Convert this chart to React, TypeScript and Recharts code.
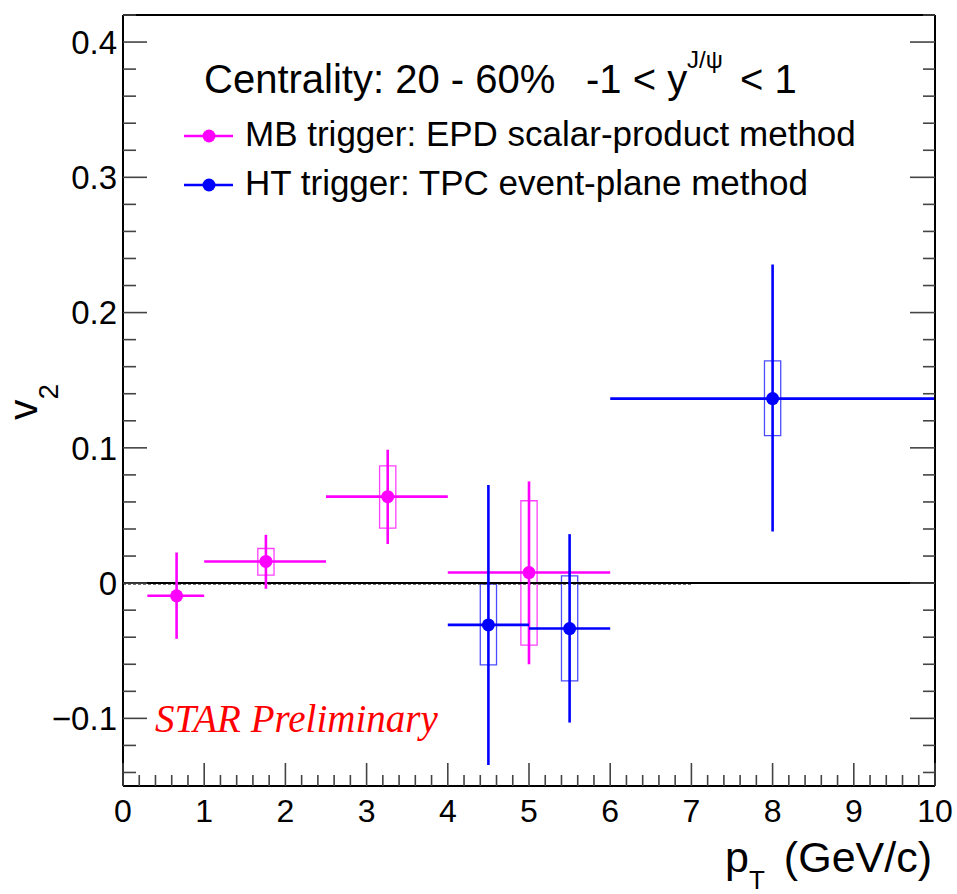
import React from 'react'
import {
  ComposedChart,
  Scatter,
  XAxis,
  YAxis,
  ErrorBar,
  ReferenceArea,
  ReferenceLine,
} from 'recharts'

// MB trigger, EPD scalar-product method
const MB_PT = [0.66, 1.76, 3.26, 5.0]
const MB_BIN_LO = [0.3, 1.0, 2.5, 4.0]
const MB_BIN_HI = [1.0, 2.5, 4.0, 6.0]
const MB_V2 = [-0.0094, 0.016, 0.0639, 0.0078]
const MB_STAT_LO = [-0.0412, -0.0042, 0.0289, -0.06]
const MB_STAT_HI = [0.0226, 0.0357, 0.0986, 0.0752]
const MB_SYS_LO = [null, 0.0059, 0.0407, -0.0459]
const MB_SYS_HI = [null, 0.0256, 0.0866, 0.0609]

// HT trigger, TPC event-plane method
const HT_PT = [4.5, 5.5, 8.0]
const HT_BIN_LO = [4.0, 5.0, 6.0]
const HT_BIN_HI = [5.0, 6.0, 10.0]
const HT_V2 = [-0.0309, -0.0336, 0.1364]
const HT_STAT_LO = [-0.1345, -0.1031, 0.0382]
const HT_STAT_HI = [0.0725, 0.0362, 0.2355]
const HT_SYS_LO = [-0.0605, -0.0723, 0.109]
const HT_SYS_HI = [-0.0007, 0.0054, 0.1643]

// axis ranges and tick positions (major + minor)
const X_DOMAIN = [0, 10]
const Y_DOMAIN = [-0.15, 0.42]
const X_TICKS = Array.from({ length: 51 }, (_, i) => Math.round(i * 2) / 10)
const Y_TICKS = Array.from({ length: 29 }, (_, i) => Math.round(-14 + i * 2) / 100)

const SYS_HALF_WIDTH = 0.1

const MAGENTA = '#FF00FF'
const BLUE = '#0000FF'
const TICK = '#444'
const SANS = '"Liberation Sans", Arial, Helvetica, sans-serif'
const SERIF = '"Liberation Serif", "Times New Roman", serif'

const W = 957
const H = 894

function toPoints(pt: number[], v2: number[], lo: number[], hi: number[], sLo: number[], sHi: number[]) {
  return pt.map((x, i) => ({
    x,
    y: v2[i],
    xErr: [x - lo[i], hi[i] - x],
    yErr: [v2[i] - sLo[i], sHi[i] - v2[i]],
  }))
}

const mbPoints = toPoints(MB_PT, MB_V2, MB_BIN_LO, MB_BIN_HI, MB_STAT_LO, MB_STAT_HI)
const htPoints = toPoints(HT_PT, HT_V2, HT_BIN_LO, HT_BIN_HI, HT_STAT_LO, HT_STAT_HI)

const isMajorX = (v: number) => Math.abs(v - Math.round(v)) < 1e-6
const isMajorY = (v: number) => Math.abs(v * 10 - Math.round(v * 10)) < 1e-6

const yLabel = (v: number) => {
  if (Math.abs(v) < 1e-9) return '0'
  return v < 0 ? '\u2212' + Math.abs(v).toFixed(1) : v.toFixed(1)
}

const BottomTick = ({ x, y, payload }: any) => {
  const major = isMajorX(payload.value)
  return (
    <g>
      <line x1={x} x2={x} y1={y} y2={y - (major ? 23 : 11)} stroke={TICK} strokeWidth={1.6} />
      {major && (
        <text x={x} y={y + 36} textAnchor="middle" fontSize={32} fontFamily={SANS} fill="#000">
          {Math.round(payload.value)}
        </text>
      )}
    </g>
  )
}

const TopTick = ({ x, y, payload }: any) => {
  const major = isMajorX(payload.value)
  return <line x1={x} x2={x} y1={y} y2={y + (major ? 23 : 12)} stroke={TICK} strokeWidth={1.6} />
}

const LeftTick = ({ x, y, payload }: any) => {
  const major = isMajorY(payload.value)
  return (
    <g>
      <line x1={x} x2={x + (major ? 24 : 13)} y1={y} y2={y} stroke={TICK} strokeWidth={1.6} />
      {major && (
        <text x={x - 6} y={y} dy="0.36em" textAnchor="end" fontSize={33} fontFamily={SANS} fill="#000">
          {yLabel(payload.value)}
        </text>
      )}
    </g>
  )
}

const RightTick = ({ x, y, payload }: any) => {
  const major = isMajorY(payload.value)
  return <line x1={x} x2={x - (major ? 25 : 12)} y1={y} y2={y} stroke={TICK} strokeWidth={1.6} />
}

const Marker = (color: string) => (props: any) => <circle cx={props.cx} cy={props.cy} r={6.5} fill={color} />

const frame = { stroke: '#000', strokeWidth: 2 }

export default function App() {
  return (
    <div style={{ position: 'absolute', left: 0, top: 0, width: W, height: H, background: '#fff' }}>
      <ComposedChart width={W} height={H} margin={{ top: 14, right: 21, bottom: 107, left: 122 }}>
        <XAxis
          type="number"
          dataKey="x"
          domain={X_DOMAIN}
          allowDataOverflow
          ticks={X_TICKS}
          interval={0}
          height={1}
          tickSize={0}
          tickMargin={0}
          tickLine={false}
          axisLine={frame}
          tick={<BottomTick />}
        />
        <XAxis
          xAxisId="top"
          orientation="top"
          type="number"
          domain={X_DOMAIN}
          allowDataOverflow
          ticks={X_TICKS}
          interval={0}
          height={1}
          tickSize={0}
          tickMargin={0}
          tickLine={false}
          axisLine={frame}
          tick={<TopTick />}
        />
        <YAxis
          type="number"
          dataKey="y"
          domain={Y_DOMAIN}
          allowDataOverflow
          ticks={Y_TICKS}
          interval={0}
          width={1}
          tickSize={0}
          tickMargin={0}
          tickLine={false}
          axisLine={frame}
          tick={<LeftTick />}
        />
        <YAxis
          yAxisId="right"
          orientation="right"
          type="number"
          domain={Y_DOMAIN}
          allowDataOverflow
          ticks={Y_TICKS}
          interval={0}
          width={1}
          tickSize={0}
          tickMargin={0}
          tickLine={false}
          axisLine={frame}
          tick={<RightTick />}
        />

        {/* zero reference: dashed guide just under a solid line */}
        <ReferenceLine
          segment={[{ x: 0, y: -0.0009 }, { x: 7, y: -0.0009 }]}
          stroke="#555"
          strokeWidth={1}
          strokeDasharray="3 2"
        />
        <ReferenceLine y={0} stroke="#000" strokeWidth={2} />

        {/* systematic uncertainty boxes */}
        {MB_PT.map((x, i) =>
          MB_SYS_LO[i] == null ? null : (
            <ReferenceArea
              key={'mb-sys-' + i}
              x1={x - SYS_HALF_WIDTH}
              x2={x + SYS_HALF_WIDTH}
              y1={MB_SYS_LO[i] as number}
              y2={MB_SYS_HI[i] as number}
              fill="none"
              stroke={MAGENTA}
              strokeOpacity={0.75}
              strokeWidth={1.3}
              ifOverflow="visible"
            />
          ),
        )}
        {HT_PT.map((x, i) => (
          <ReferenceArea
            key={'ht-sys-' + i}
            x1={x - SYS_HALF_WIDTH}
            x2={x + SYS_HALF_WIDTH}
            y1={HT_SYS_LO[i]}
            y2={HT_SYS_HI[i]}
            fill="none"
            stroke={BLUE}
            strokeOpacity={0.7}
            strokeWidth={1.3}
            ifOverflow="visible"
          />
        ))}

        <Scatter data={mbPoints} dataKey="y" shape={Marker(MAGENTA)} isAnimationActive={false}>
          <ErrorBar dataKey="xErr" direction="x" width={0} stroke={MAGENTA} strokeWidth={2.6} />
          <ErrorBar dataKey="yErr" direction="y" width={0} stroke={MAGENTA} strokeWidth={2.6} />
        </Scatter>
        <Scatter data={htPoints} dataKey="y" shape={Marker(BLUE)} isAnimationActive={false}>
          <ErrorBar dataKey="xErr" direction="x" width={0} stroke={BLUE} strokeWidth={2.6} />
          <ErrorBar dataKey="yErr" direction="y" width={0} stroke={BLUE} strokeWidth={2.6} />
        </Scatter>
      </ComposedChart>

      {/* annotations, legend and axis titles */}
      <svg
        width={W}
        height={H}
        style={{ position: 'absolute', left: 0, top: 0, pointerEvents: 'none' }}
      >
        <g fontFamily={SANS} fill="#000">
          <text x={204} y={93} fontSize={40}>Centrality: 20 - 60%</text>
          <text x={586} y={93} fontSize={40}>-1 &lt; y</text>
          <text x={687} y={68} fontSize={24}>J/ψ</text>
          <text x={740} y={93} fontSize={40}>&lt; 1</text>

          <line x1={184} x2={233} y1={136} y2={136} stroke={MAGENTA} strokeWidth={2.6} />
          <circle cx={209} cy={136} r={6.5} fill={MAGENTA} />
          <text x={245} y={146} fontSize={35}>MB trigger: EPD scalar-product method</text>

          <line x1={184} x2={233} y1={185} y2={185} stroke={BLUE} strokeWidth={2.6} />
          <circle cx={209} cy={185} r={6.5} fill={BLUE} />
          <text x={245} y={195} fontSize={35}>HT trigger: TPC event-plane method</text>

          <text x={725} y={872} fontSize={43}>p</text>
          <text x={749} y={889} fontSize={26}>T</text>
          <text x={932} y={872} fontSize={43} textAnchor="end">(GeV/c)</text>

          <text transform="translate(37,420) rotate(-90)" fontSize={41}>
            v<tspan fontSize={28} dy={21}>2</tspan>
          </text>
        </g>
        <text x={155} y={732} fontFamily={SERIF} fontStyle="italic" fontSize={39} fill="#FF0000">
          STAR Preliminary
        </text>
      </svg>
    </div>
  )
}
